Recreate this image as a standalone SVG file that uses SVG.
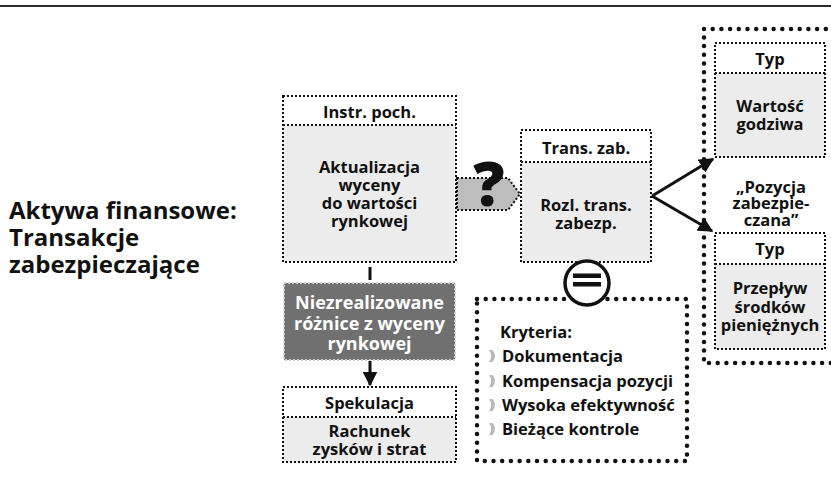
<svg xmlns="http://www.w3.org/2000/svg" width="831" height="486" viewBox="0 0 831 486">
  <style>
    text { font-family: "Open Sans", "Liberation Sans", sans-serif; font-weight: 700; fill: #111; }
    .c { text-anchor: middle; }
    .t16 { font-size: 16.5px; }
    .fine { fill: none; stroke: #111; stroke-width: 2; stroke-dasharray: 2 2; }
    .big { fill: none; stroke: #111; stroke-width: 4.5; stroke-linecap: round; stroke-dasharray: 0 8.7; }
    .head { fill: #ffffff; }
    .body { fill: #ececec; }
    .bul { fill: #b8b8b8; }
    .conn { stroke: #111; stroke-width: 3; fill: none; }
  </style>
  <defs>
    <marker id="ah" viewBox="0 0 10 10" refX="9" refY="5" markerWidth="5" markerHeight="5" orient="auto" markerUnits="strokeWidth">
      <path d="M0 0 L10 5 L0 10 Z" fill="#111"/>
    </marker>
    <path id="bullet" d="M0 -12 L3.5 -12 Q8.5 -6 3.5 0 L0 0 Q4.5 -6 0 -12 Z"/>
  </defs>

  <!-- page rule -->
  <line x1="0" y1="6" x2="831" y2="6" stroke="#2b2b2b" stroke-width="2"/>

  <!-- heading -->
  <g id="title" style="font-size:24px">
    <text x="9" y="219">Aktywa finansowe:</text>
    <text x="9" y="246">Transakcje</text>
    <text x="9" y="273">zabezpieczające</text>
  </g>

  <!-- connectors -->
  <g id="connectors">
    <line class="conn" x1="370" y1="267" x2="370" y2="280"/>
    <line class="conn" x1="370" y1="361" x2="370" y2="385" marker-end="url(#ah)"/>
    <line class="conn" x1="652" y1="196" x2="713" y2="159" marker-end="url(#ah)"/>
    <line class="conn" x1="652" y1="196" x2="712" y2="231" marker-end="url(#ah)"/>
    <!-- grey pointer between instrument and hedge boxes -->
    <polygon points="457,178 508,178 520,194 508,210 457,210" class="fine" style="fill:#bdbdbd"/>
    <text class="c" x="489" y="206" style="font-size:62px;font-weight:800">?</text>
  </g>

  <!-- derivative instrument -->
  <g id="instr">
    <rect class="body" x="283" y="125" width="173" height="137"/>
    <rect class="head" x="283" y="96" width="173" height="29"/>
    <rect class="fine" x="283" y="96" width="173" height="166"/>
    <line class="fine" x1="283" y1="125" x2="456" y2="125"/>
    <text class="c t16" x="369.5" y="118">Instr. poch.</text>
    <text class="c t16" x="369.5" y="173">Aktualizacja</text>
    <text class="c t16" x="369.5" y="191">wyceny</text>
    <text class="c t16" x="369.5" y="209">do wartości</text>
    <text class="c t16" x="369.5" y="227">rynkowej</text>
  </g>

  <!-- unrealised differences -->
  <g id="niezrealizowane">
    <rect x="284" y="283" width="171" height="77" fill="#707070" stroke="#d0d0d0" stroke-width="2" stroke-dasharray="2 2"/>
    <text class="c" x="369.5" y="309" style="font-size:18px;fill:#ffffff">Niezrealizowane</text>
    <text class="c" x="369.5" y="330" style="font-size:18px;fill:#ffffff">różnice z wyceny</text>
    <text class="c" x="369.5" y="350" style="font-size:18px;fill:#ffffff">rynkowej</text>
  </g>

  <!-- speculation -->
  <g id="spekulacja">
    <rect class="body" x="283" y="417" width="173" height="45"/>
    <rect class="head" x="283" y="387" width="173" height="30"/>
    <rect class="fine" x="283" y="387" width="173" height="75"/>
    <line class="fine" x1="283" y1="417" x2="456" y2="417"/>
    <text class="c t16" x="369.5" y="409">Spekulacja</text>
    <text class="c t16" x="369.5" y="437">Rachunek</text>
    <text class="c t16" x="369.5" y="455">zysków i strat</text>
  </g>

  <!-- hedge transaction -->
  <g id="trans">
    <rect class="body" x="521" y="162" width="130" height="100"/>
    <rect class="head" x="521" y="130" width="130" height="32"/>
    <rect class="fine" x="521" y="130" width="130" height="132"/>
    <line class="fine" x1="521" y1="162" x2="651" y2="162"/>
    <text class="c t16" x="586" y="154">Trans. zab.</text>
    <text class="c t16" x="586" y="211">Rozl. trans.</text>
    <text class="c t16" x="586" y="229">zabezp.</text>
  </g>

  <!-- criteria -->
  <g id="kryteria">
    <rect class="big" x="477" y="299" width="210" height="162"/>
    <g class="t16">
      <text x="500" y="338">Kryteria:</text>
      <text x="502" y="362">Dokumentacja</text>
      <text x="502" y="387">Kompensacja pozycji</text>
      <text x="502" y="411">Wysoka efektywność</text>
      <text x="502" y="435">Bieżące kontrole</text>
    </g>
    <use href="#bullet" class="bul" x="489" y="362"/>
    <use href="#bullet" class="bul" x="489" y="387"/>
    <use href="#bullet" class="bul" x="489" y="411"/>
    <use href="#bullet" class="bul" x="489" y="435"/>
  </g>

  <!-- equals sign -->
  <g id="equals">
    <circle cx="587" cy="283" r="22" fill="#ffffff" stroke="#111" stroke-width="3.5"/>
    <rect x="573" y="273.5" width="28" height="4.5" fill="#111"/>
    <rect x="573" y="282" width="28" height="4.5" fill="#111"/>
  </g>

  <!-- hedged item -->
  <g id="pozycja">
    <rect class="big" x="704" y="29" width="140" height="334"/>
    <text class="c t16" x="771" y="193">„Pozycja</text>
    <text class="c t16" x="771" y="209">zabezpie-</text>
    <text class="c t16" x="771" y="226">czana”</text>
  </g>

  <g id="typ-wartosc">
    <rect class="body" x="715" y="73" width="110" height="84"/>
    <rect class="head" x="715" y="43" width="110" height="30"/>
    <rect class="fine" x="715" y="43" width="110" height="114"/>
    <line class="fine" x1="715" y1="73" x2="825" y2="73"/>
    <text class="c t16" x="770" y="65">Typ</text>
    <text class="c t16" x="770" y="112">Wartość</text>
    <text class="c t16" x="770" y="130">godziwa</text>
  </g>

  <g id="typ-przeplyw">
    <rect class="body" x="715" y="264" width="110" height="85"/>
    <rect class="head" x="715" y="233" width="110" height="31"/>
    <rect class="fine" x="715" y="233" width="110" height="116"/>
    <line class="fine" x1="715" y1="264" x2="825" y2="264"/>
    <text class="c t16" x="770" y="255">Typ</text>
    <text class="c t16" x="770" y="294">Przepływ</text>
    <text class="c t16" x="770" y="313">środków</text>
    <text class="c t16" x="770" y="331">pieniężnych</text>
  </g>
</svg>
